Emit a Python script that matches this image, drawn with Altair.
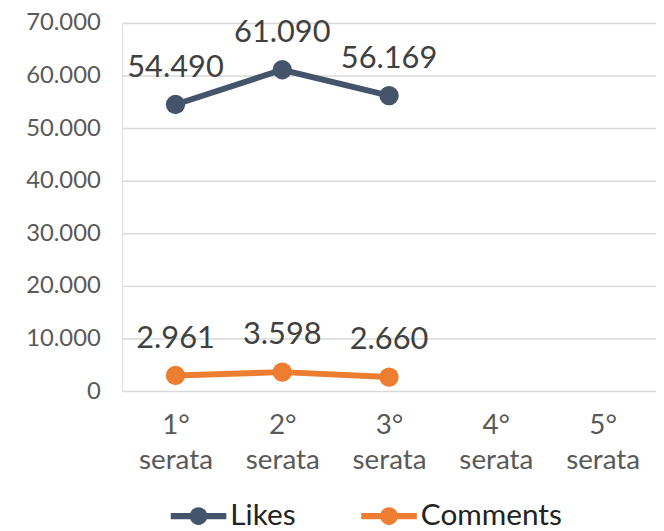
import altair as alt
import pandas as pd

categories = ["1° serata", "2° serata", "3° serata", "4° serata", "5° serata"]
series_names = ["Likes", "Comments"]
likes = [54490, 61090, 56169]
comments = [2961, 3598, 2660]
label_likes = ["54.490", "61.090", "56.169"]
label_comments = ["2.961", "3.598", "2.660"]

rows = []
for i, v in enumerate(likes):
    rows.append({"cat": categories[i], "series": "Likes", "value": v, "label": label_likes[i]})
for i, v in enumerate(comments):
    rows.append({"cat": categories[i], "series": "Comments", "value": v, "label": label_comments[i]})
df = pd.DataFrame(rows)

FONT = "Lato"
colors = ["#44546A", "#ED7D31"]

x = alt.X("cat:N", sort=categories, scale=alt.Scale(domain=categories, type="point", padding=0.5),
          axis=alt.Axis(title=None, labelAngle=0, labelExpr="split(datum.label, ' ')",
                        labelLineHeight=35, labelPadding=21, labelBaseline="top",
                        labelFontSize=28, labelColor="#595959", labelFont=FONT,
                        domain=False, ticks=False, grid=False))
y = alt.Y("value:Q", scale=alt.Scale(domain=[0, 70000], nice=False),
          axis=alt.Axis(title=None, values=[0, 10000, 20000, 30000, 40000, 50000, 60000, 70000],
                        labelExpr="replace(format(datum.value, ',.0f'), ',', '.')",
                        labelFontSize=24, labelColor="#595959", labelFont=FONT, labelPadding=22,
                        domain=False, ticks=False, grid=True, gridColor="#D9D9D9", gridWidth=1.5))

legend_path = ("M-1,-0.11 L1,-0.11 L1,0.11 L-1,0.11 Z "
               "M0.32,0 A0.32,0.32 0 1 1 -0.32,0 A0.32,0.32 0 1 1 0.32,0 Z")

scale = alt.Scale(domain=series_names, range=colors)
legend = alt.Legend(title=None, orient="none", direction="horizontal",
                    legendX=49, legendY=469, padding=0,
                    symbolType=legend_path, symbolSize=3136, symbolStrokeWidth=0,
                    symbolOpacity=1,
                    labelFontSize=30, labelFont=FONT, labelColor="#222222",
                    labelOffset=4, columnPadding=66)
color = alt.Color("series:N", sort=series_names, scale=scale, legend=legend)

base = alt.Chart(df).encode(x=x, y=y)

lines = base.mark_line(strokeWidth=6).encode(color=color)
points = base.mark_point(filled=True, size=380, opacity=1).encode(color=color)
texts = base.mark_text(dy=-37, fontSize=31, font=FONT, color="#404040", baseline="middle").encode(
    text="label:N")

chart = alt.layer(lines, points, texts).properties(
    width=538, height=371,
    autosize=alt.AutoSizeParams(type="none"),
    padding={"left": 115, "top": 13, "right": 0, "bottom": 139},
).configure_view(stroke=None).configure(background="white")

chart.save("out.html", embed_options={"renderer": "svg", "actions": False})
